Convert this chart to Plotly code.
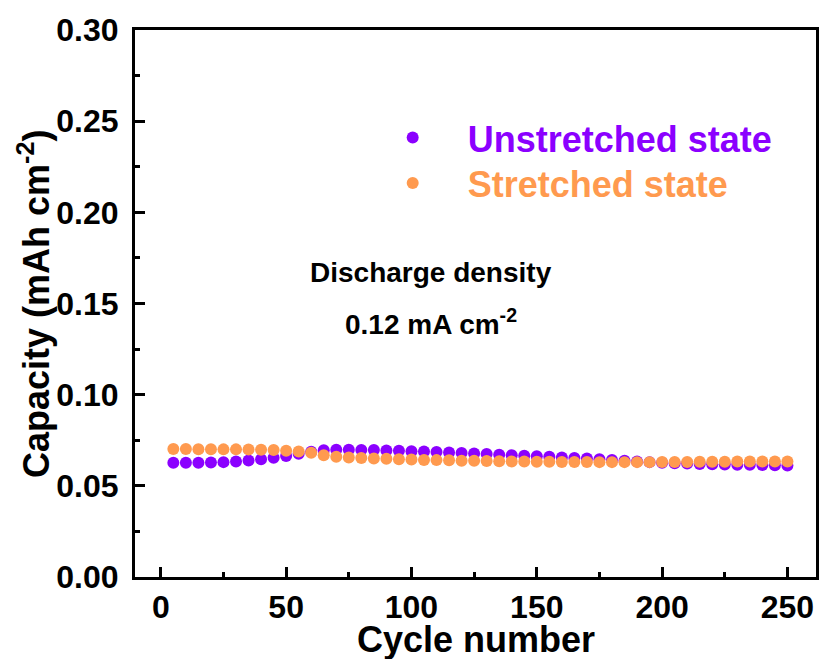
import plotly.graph_objects as go

cycles = list(range(5, 251, 5))

unstretched = [0.0626, 0.0626, 0.0627, 0.0628, 0.0630, 0.0634, 0.0639, 0.0646, 0.0654, 0.0664,
               0.0676, 0.0687, 0.0695, 0.0698, 0.0698, 0.0697, 0.0696, 0.0694, 0.0692, 0.0690,
               0.0688, 0.0686, 0.0683, 0.0680, 0.0677, 0.0674, 0.0671, 0.0668, 0.0665, 0.0662,
               0.0659, 0.0656, 0.0653, 0.0650, 0.0646, 0.0642, 0.0638, 0.0634, 0.0630, 0.0627,
               0.0624, 0.0622, 0.0620, 0.0618, 0.0617, 0.0616, 0.0615, 0.0614, 0.0613, 0.0612]

stretched = [0.0702, 0.0702, 0.0701, 0.0701, 0.0700, 0.0700, 0.0699, 0.0698, 0.0697, 0.0693,
             0.0688, 0.0682, 0.0668, 0.0660, 0.0656, 0.0653, 0.0650, 0.0648, 0.0646, 0.0644,
             0.0642, 0.0641, 0.0640, 0.0638, 0.0637, 0.0636, 0.0635, 0.0634, 0.0633, 0.0632,
             0.0632, 0.0631, 0.0631, 0.0631, 0.0630, 0.0630, 0.0630, 0.0630, 0.0630, 0.0631,
             0.0631, 0.0631, 0.0632, 0.0632, 0.0632, 0.0633, 0.0633, 0.0633, 0.0633, 0.0633]

series_names = ["Unstretched state", "Stretched state"]
colors = ["#8B00FF", "#FF9A4F"]

x_ticks = [0, 50, 100, 150, 200, 250]
y_ticks = [0.00, 0.05, 0.10, 0.15, 0.20, 0.25, 0.30]

x_title = "Cycle number"
y_title = "Capacity (mAh cm<sup>-2</sup>)"
note_lines = ["Discharge density", "0.12 mA cm<sup>-2</sup>"]

FONT = "Liberation Sans, Arial, sans-serif"

fig = go.Figure()
legend_ids = ["legend", "legend2"]
for vals, name, col, lg in zip([unstretched, stretched], series_names, colors, legend_ids):
    fig.add_trace(go.Scatter(
        x=cycles, y=vals, mode="markers",
        name=f"<span style='color:{col}'><b>{name}</b></span>",
        legend=lg,
        marker=dict(color=col, size=12, line=dict(width=0)),
    ))

axis_common = dict(
    showline=True, linecolor="black", linewidth=3, mirror=True,
    ticks="inside", ticklen=10, tickwidth=3, tickcolor="black",
    showgrid=False, zeroline=False,
    tickfont=dict(family=FONT, size=32, color="black", weight="bold"),
)

fig.update_xaxes(
    range=[-10.3, 261.4], tickmode="array", tickvals=x_ticks,
    ticktext=[str(v) for v in x_ticks],
    minor=dict(dtick=25, ticks="inside", ticklen=5, tickwidth=3, tickcolor="black", showgrid=False),
    ticklabelstandoff=0,
    **axis_common,
)
fig.update_yaxes(
    range=[0, 0.30], tickmode="array", tickvals=y_ticks,
    ticktext=[f"{v:.2f}" for v in y_ticks],
    minor=dict(dtick=0.025, ticks="inside", ticklen=5, tickwidth=3, tickcolor="black", showgrid=False),
    ticklabelstandoff=7,
    **axis_common,
)

# axis titles
fig.add_annotation(x=0.5, y=-0.115, xref="paper", yref="paper", showarrow=False,
                   xanchor="center", yanchor="middle",
                   text=f"<b>{x_title}</b>",
                   font=dict(family=FONT, size=36, color="black"))
fig.add_annotation(x=-0.149, y=0.5, xref="paper", yref="paper", showarrow=False,
                   xanchor="center", yanchor="middle", textangle=-90,
                   text=f"<b>{y_title}</b>",
                   font=dict(family=FONT, size=36, color="black"))

fig.add_annotation(x=107.8, y=0.167, xref="x", yref="y", showarrow=False,
                   text=f"<b>{note_lines[0]}</b>",
                   font=dict(family=FONT, size=28, color="black"))
fig.add_annotation(x=107.8, y=0.140, xref="x", yref="y", showarrow=False,
                   text=f"<b>{note_lines[1]}</b>",
                   font=dict(family=FONT, size=28, color="black"))

legend_common = dict(xanchor="left", yanchor="top", bgcolor="rgba(0,0,0,0)", borderwidth=0,
                     font=dict(family=FONT, size=36), itemwidth=100)

fig.update_layout(
    width=820, height=659,
    margin=dict(l=135, r=4, t=30, b=82, autoexpand=False),
    paper_bgcolor="white", plot_bgcolor="white",
    showlegend=True,
    legend=dict(x=0.327, y=0.858, **legend_common),
    legend2=dict(x=0.327, y=0.775, **legend_common),
)

fig.write_html("out.html")
